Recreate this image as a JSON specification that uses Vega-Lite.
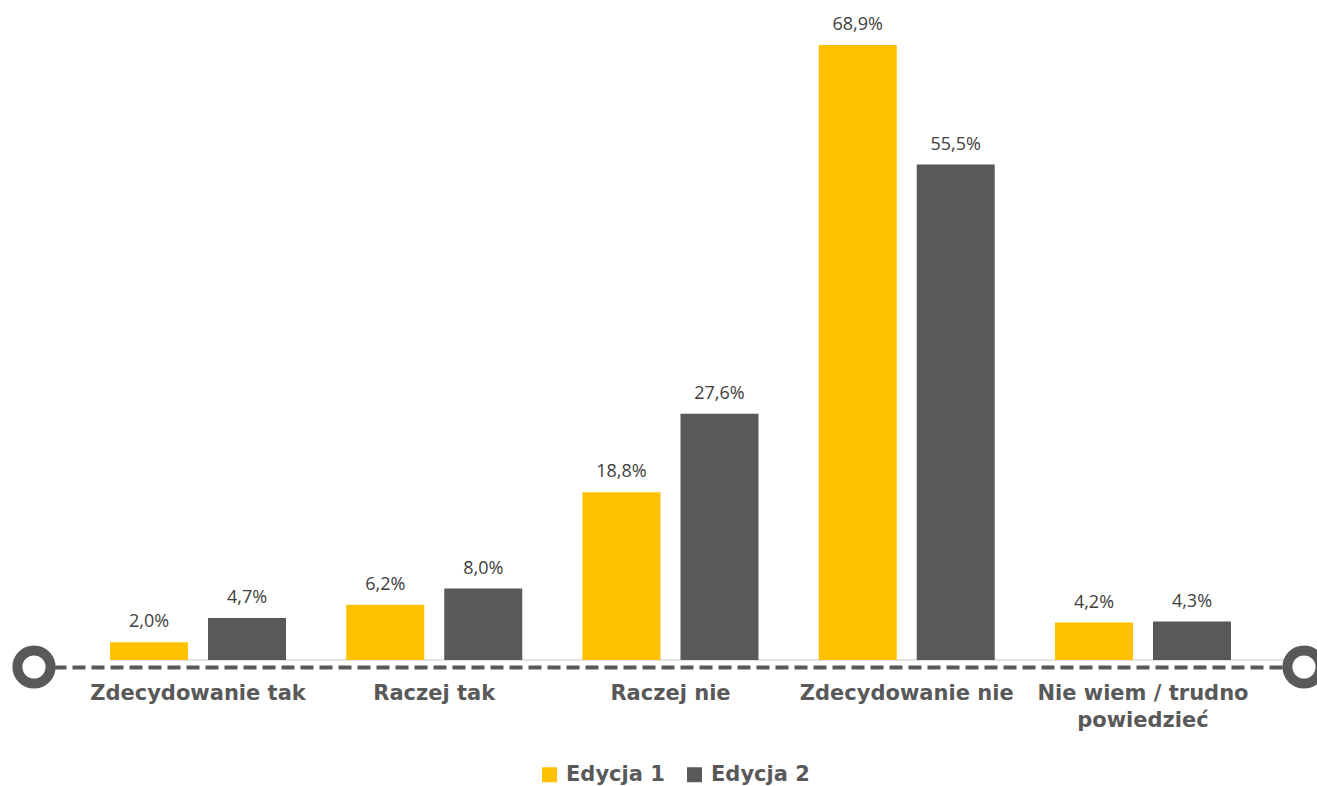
{
  "$schema": "https://vega.github.io/schema/vega-lite/v6.json",
  "width": 1270,
  "height": 652,
  "autosize": {"type": "none"},
  "padding": {"left": 34, "top": 15, "right": 13, "bottom": 119},
  "background": "white",
  "config": {
    "view": {"stroke": null},
    "locale": {"number": {"decimal": ",", "thousands": " ", "grouping": [3], "currency": ["", " zł"]}}
  },
  "datasets": {
    "bars": [
      {"kategoria": "Zdecydowanie tak", "edycja": "Edycja 1", "wartosc": 0.020},
      {"kategoria": "Zdecydowanie tak", "edycja": "Edycja 2", "wartosc": 0.047},
      {"kategoria": "Raczej tak", "edycja": "Edycja 1", "wartosc": 0.062},
      {"kategoria": "Raczej tak", "edycja": "Edycja 2", "wartosc": 0.080},
      {"kategoria": "Raczej nie", "edycja": "Edycja 1", "wartosc": 0.188},
      {"kategoria": "Raczej nie", "edycja": "Edycja 2", "wartosc": 0.276},
      {"kategoria": "Zdecydowanie nie", "edycja": "Edycja 1", "wartosc": 0.689},
      {"kategoria": "Zdecydowanie nie", "edycja": "Edycja 2", "wartosc": 0.555},
      {"kategoria": "Nie wiem / trudno powiedzieć", "edycja": "Edycja 1", "wartosc": 0.042},
      {"kategoria": "Nie wiem / trudno powiedzieć", "edycja": "Edycja 2", "wartosc": 0.043}
    ],
    "ends": [{"pos": 0}, {"pos": 1}],
    "baseline": [{"start": 0.0598, "end": 0.9906, "v": 0}]
  },
  "layer": [
    {
      "data": {"name": "baseline"},
      "mark": {"type": "rule", "color": "#d9d9d9", "strokeWidth": 1.5},
      "encoding": {
        "x": {"field": "start", "type": "quantitative", "scale": {"domain": [0, 1]}, "axis": null},
        "x2": {"field": "end"},
        "y": {"field": "v", "type": "quantitative", "scale": {"domain": [-0.00784, 0.7226], "nice": false, "zero": false}, "axis": null}
      }
    },
    {
      "data": {"name": "bars"},
      "layer": [
        {
          "mark": {"type": "bar"},
          "encoding": {
            "x": {
              "field": "kategoria", "type": "nominal", "sort": null,
              "scale": {"paddingInner": 0.255, "paddingOuter": 0.3154, "align": 0.51},
              "axis": {
                "title": null, "ticks": false, "grid": false,
                "domain": true, "domainColor": "#595959", "domainWidth": 4, "domainDash": [13, 6], "domainCap": "butt",
                "labelAngle": 0, "labelFont": "DejaVu Sans", "labelFontWeight": "bold", "labelFontSize": 21,
                "labelColor": "#595959", "labelPadding": 15, "labelLineHeight": 27, "labelBaseline": "top",
                "labelExpr": "datum.label == 'Nie wiem / trudno powiedzieć' ? ['Nie wiem / trudno', 'powiedzieć'] : datum.label",
                "labelLimit": 300
              }
            },
            "xOffset": {"field": "edycja", "type": "nominal", "scale": {"paddingInner": 0.204, "paddingOuter": 0}},
            "y": {"field": "wartosc", "type": "quantitative", "scale": {"domain": [-0.00784, 0.7226], "nice": false, "zero": false}, "axis": null},
            "y2": {"datum": 0},
            "color": {
              "field": "edycja", "type": "nominal",
              "scale": {"domain": ["Edycja 1", "Edycja 2"], "range": ["#ffc000", "#595959"]},
              "legend": {
                "title": null, "orient": "none", "direction": "horizontal",
                "legendX": 505, "legendY": 749,
                "symbolType": "square", "symbolSize": 225, "symbolStrokeWidth": 0,
                "labelFont": "DejaVu Sans", "labelFontWeight": "bold", "labelFontSize": 21, "labelColor": "#595959",
                "labelOffset": 6, "columnPadding": 19, "padding": 0
              }
            }
          }
        },
        {
          "mark": {"type": "text", "font": "Open Sans", "fontSize": 18, "color": "#404040", "baseline": "alphabetic", "dy": -15},
          "encoding": {
            "x": {"field": "kategoria", "type": "nominal", "sort": null},
            "xOffset": {"field": "edycja", "type": "nominal"},
            "y": {"field": "wartosc", "type": "quantitative"},
            "text": {"field": "wartosc", "type": "quantitative", "format": ".1%"}
          }
        }
      ]
    },
    {
      "data": {"name": "ends"},
      "mark": {"type": "point", "shape": "circle", "filled": false, "fill": "white", "fillOpacity": 1, "stroke": "#595959", "strokeWidth": 10, "size": 1100, "opacity": 1},
      "encoding": {
        "x": {"field": "pos", "type": "quantitative", "scale": {"domain": [0, 1]}, "axis": null},
        "y": {"datum": -0.00784, "type": "quantitative"}
      }
    }
  ],
  "resolve": {"scale": {"x": "independent"}}
}
